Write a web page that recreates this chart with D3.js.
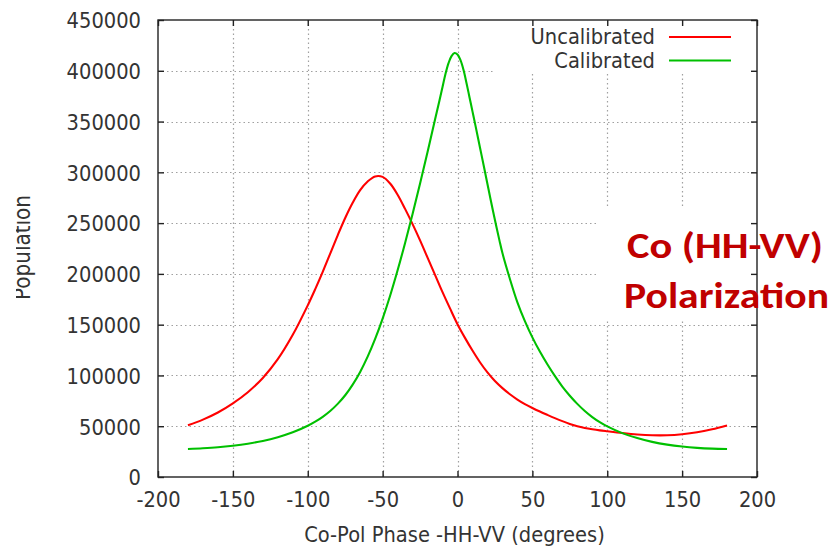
<!DOCTYPE html>
<html>
<head>
<meta charset="utf-8">
<script src="https://cdn.jsdelivr.net/npm/d3@7"></script>
<style>
  html, body { margin: 0; padding: 0; background: #fff; }
  svg { display: block; }
</style>
</head>
<body>
<svg id="chart" width="836" height="547"></svg>
<script>
// ---------- data ----------
const xTicks = [-200, -150, -100, -50, 0, 50, 100, 150, 200];
const yTicks = [0, 50000, 100000, 150000, 200000, 250000, 300000, 350000, 400000, 450000];

const uncalPhase = [-180,-170,-160,-150,-140,-130,-120,-110,-100,-95,-90,-85,-80,-75,-70,-65,-60,-55,-50,-45,-40,-35,-30,-25,-20,-15,-10,-5,0,5,10,15,20,25,30,35,40,45,50,55,60,65,70,75,80,85,90,95,100,110,120,130,140,150,160,170,180];
const uncalPop   = [51000,56500,63500,72500,83500,97500,116000,140000,169000,185000,202000,220000,238000,255000,270000,282500,291000,296000,295500,289000,278000,264000,249000,233000,216000,199000,182000,166000,150500,137000,124500,113000,103000,94500,87500,81500,76300,71800,68000,64500,61200,58000,55000,52300,50000,48300,47000,45900,45000,43300,41900,41100,41100,42100,44000,47000,50800];

const calPhase = [-180,-170,-160,-150,-140,-130,-120,-110,-100,-95,-90,-85,-80,-75,-70,-65,-60,-55,-50,-45,-40,-35,-30,-25,-20,-15,-12,-10,-8,-6,-4,-2,0,2,4,6,8,10,12,15,18,20,22,25,28,30,35,40,45,50,55,60,65,70,75,80,85,90,95,100,110,120,130,140,150,160,170,180];
const calPop   = [27600,28300,29300,30800,32800,35500,39200,44000,50500,54500,59300,65000,72000,80500,91000,103500,118500,136000,156000,178500,203500,230500,259000,289000,320000,352000,371000,384000,397000,407500,414500,417500,416000,410500,401000,388000,374000,360000,346000,324500,303000,288500,274000,253000,233000,220500,195000,172000,153500,137500,123500,111000,99500,89000,80000,72000,65000,59000,54000,49800,43200,38300,34600,31900,30000,28700,27900,27500];

const seriesNames = ["Uncalibrated", "Calibrated"];
const seriesColors = ["#ff0000", "#00c000"];
const xTitle = "Co-Pol Phase -HH-VV (degrees)";
const yTitle = "Population";
const noteLines = ["Co (HH-VV)", "Polarization"];

// ---------- layout ----------
const L = 158, R = 757, T = 20, B = 477;
const FONT = "'DejaVu Sans', Verdana, sans-serif";
const TXT = "#333";
const SY = 1.1;

const svg = d3.select("#chart");
const x = d3.scaleLinear().domain([-200, 200]).range([L, R]);
const y = d3.scaleLinear().domain([0, 450000]).range([B, T]);

// ---------- grid ----------
const grid = svg.append("g").attr("stroke", "#a0a0a0").attr("stroke-width", 1.2)
  .attr("stroke-dasharray", "1.5,3");
grid.selectAll(".gx").data(xTicks.slice(1, -1)).join("line")
  .attr("x1", d => Math.round(x(d)) + 0.5).attr("x2", d => Math.round(x(d)) + 0.5)
  .attr("y1", T).attr("y2", B);
grid.selectAll(".gy").data(yTicks.slice(1, -1)).join("line")
  .attr("y1", d => Math.round(y(d)) + 0.5).attr("y2", d => Math.round(y(d)) + 0.5)
  .attr("x1", L).attr("x2", R);

// ---------- curves ----------
const line = d3.line().x(d => x(d[0])).y(d => y(d[1])).curve(d3.curveCatmullRom.alpha(0.5));
const series = [
  d3.zip(uncalPhase, uncalPop),
  d3.zip(calPhase, calPop)
];
svg.append("g").selectAll("path").data(series).join("path")
  .attr("d", line).attr("fill", "none")
  .attr("stroke", (d, i) => seriesColors[i]).attr("stroke-width", 2.1)
  .attr("stroke-linejoin", "round");

// ---------- legend (opaque key) ----------
svg.append("rect").attr("x", 493).attr("y", T).attr("width", R - 493).attr("height", 54).attr("fill", "#fff");
const leg = svg.append("g");
seriesNames.forEach((n, i) => {
  const yy = 37 + i * 23.5;
  leg.append("text").text(n)
    .attr("transform", `translate(655,${yy + 7}) scale(1,${SY})`)
    .attr("text-anchor", "end").attr("font-family", FONT).attr("font-size", 19.5).attr("fill", TXT);
  leg.append("line").attr("x1", 669).attr("x2", 731).attr("y1", yy).attr("y2", yy)
    .attr("stroke", seriesColors[i]).attr("stroke-width", 2.1);
});

// ---------- annotation box ----------
svg.append("rect").attr("x", 598).attr("y", 206).attr("width", 238).attr("height", 114).attr("fill", "#fff");

// ---------- border & ticks ----------
svg.append("rect").attr("x", L).attr("y", T).attr("width", R - L).attr("height", B - T)
  .attr("fill", "none").attr("stroke", "#222").attr("stroke-width", 1.4);

function styleAxis(g) {
  g.select(".domain").remove();
  g.selectAll(".tick line").attr("stroke", "#222").attr("stroke-width", 1.4);
}
const xAxis = svg.append("g").attr("transform", `translate(0,${B})`)
  .call(d3.axisBottom(x).tickValues(xTicks).tickSize(-6).tickFormat(d => String(d)))
  .call(styleAxis);
xAxis.selectAll(".tick text")
  .attr("dy", null).attr("y", 30 / SY)
  .attr("transform", `scale(1,${SY})`)
  .attr("font-family", FONT).attr("font-size", 19.5).attr("fill", TXT);

const yAxis = svg.append("g").attr("transform", `translate(${L},0)`)
  .call(d3.axisLeft(y).tickValues(yTicks).tickSize(-6).tickFormat(d => String(d)))
  .call(styleAxis);
yAxis.selectAll(".tick text")
  .attr("dy", null).attr("x", -17).attr("y", 7.8 / SY)
  .attr("transform", `scale(1,${SY})`)
  .attr("font-family", FONT).attr("font-size", 19.5).attr("fill", TXT);

svg.append("g").attr("transform", `translate(0,${T})`)
  .call(d3.axisTop(x).tickValues(xTicks).tickSize(-6).tickFormat(""))
  .call(styleAxis);
svg.append("g").attr("transform", `translate(${R},0)`)
  .call(d3.axisRight(y).tickValues(yTicks).tickSize(-6).tickFormat(""))
  .call(styleAxis);

// ---------- axis titles ----------
svg.append("text").text(xTitle)
  .attr("transform", `translate(454.5,541.5) scale(1,${SY})`)
  .attr("text-anchor", "middle").attr("font-family", FONT).attr("font-size", 19.5).attr("fill", TXT);

svg.append("defs").append("clipPath").attr("id", "clipY")
  .append("rect").attr("x", 16).attr("y", 0).attr("width", 100).attr("height", 547);
svg.append("g").attr("clip-path", "url(#clipY)")
  .append("text").text(yTitle)
  .attr("transform", "translate(30,247.5) rotate(-90) scale(1,1.12)")
  .attr("text-anchor", "middle").attr("font-family", FONT).attr("font-size", 20).attr("fill", TXT);

// ---------- annotation ----------
const noteX = [627, 624], noteY = [257.5, 307.5], noteW = [196, 205];
noteLines.forEach((t, i) => {
  svg.append("text").text(t)
    .attr("x", noteX[i]).attr("y", noteY[i])
    .attr("font-family", "Carlito, 'Liberation Sans', Arial, sans-serif")
    .attr("font-weight", "bold").attr("font-size", 37)
    .attr("textLength", noteW[i]).attr("lengthAdjust", "spacingAndGlyphs")
    .attr("fill", "#c00000");
});
</script>
</body>
</html>
